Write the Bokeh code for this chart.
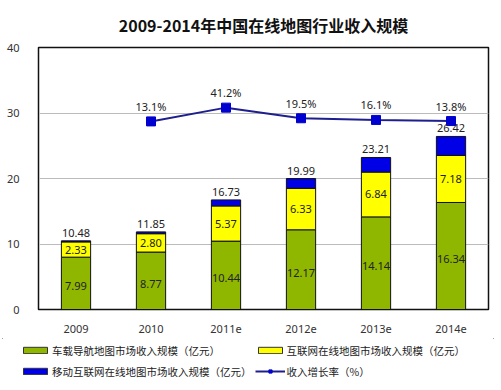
from bokeh.plotting import figure
from bokeh.layouts import column
from bokeh.models import ColumnDataSource, Range1d, Legend, LegendItem, FixedTicker, LabelSet
from bokeh.embed import file_html
from bokeh.resources import INLINE
from bokeh.core.properties import value

years = ["2009", "2010", "2011e", "2012e", "2013e", "2014e"]
car_nav = [7.99, 8.77, 10.44, 12.17, 14.14, 16.34]
internet = [2.33, 2.80, 5.37, 6.33, 6.84, 7.18]
totals = [10.48, 11.85, 16.73, 19.99, 23.21, 26.42]
growth_years = ["2010", "2011e", "2012e", "2013e", "2014e"]
growth = [13.1, 41.2, 19.5, 16.1, 13.8]

mobile = [round(t - a - b, 2) for t, a, b in zip(totals, car_nav, internet)]

FONT = "Noto Sans CJK SC"
NUMFONT = "Noto Sans"
colors = ["#8fb700", "#ffff00", "#0000e6"]
LINE_C = "#1e1e8e"
MARK_C = "#0000d0"

src = ColumnDataSource(dict(
    x=years, car=car_nav, net=internet, mob=mobile, tot=totals,
    car_lbl=["%.2f" % v for v in car_nav],
    net_lbl=["%.2f" % v for v in internet],
    tot_lbl=["%.2f" % v for v in totals],
    car_mid=[a / 2 for a in car_nav],
    net_mid=[a + b / 2 for a, b in zip(car_nav, internet)],
))
gsrc = ColumnDataSource(dict(x=growth_years, g=growth, lbl=["%.1f%%" % v for v in growth]))

p = figure(x_range=years, y_range=Range1d(0, 40), width=496, height=338,
           output_backend="svg", toolbar_location=None, frame_align=False,
           min_border_left=38, min_border_right=8, min_border_top=46, min_border_bottom=29)
p.extra_y_ranges = {"g": Range1d(-371, 164)}

rs = p.vbar_stack(["car", "net", "mob"], x="x", width=0.39, source=src, color=colors,
                  line_color="#111111", line_width=1)

p.line(x="x", y="g", source=gsrc, y_range_name="g", line_color=LINE_C, line_width=2)
p.scatter(x="x", y="g", source=gsrc, y_range_name="g", marker="square", size=9,
          fill_color=MARK_C, line_color=MARK_C)

lbl_kw = dict(text_font=value(NUMFONT), text_font_size="11px", text_color="#222222", text_align="center")
p.add_layout(LabelSet(x="x", y="car_mid", text="car_lbl", source=src, text_baseline="middle", y_offset=-3, **lbl_kw))
p.add_layout(LabelSet(x="x", y="net_mid", text="net_lbl", source=src, text_baseline="middle", **lbl_kw))
p.add_layout(LabelSet(x="x", y="tot", text="tot_lbl", source=src, text_baseline="middle", y_offset=8, **lbl_kw))
p.add_layout(LabelSet(x="x", y="g", text="lbl", source=gsrc, y_range_name="g", text_baseline="middle", y_offset=15, **lbl_kw))

p.title.text = "2009-2014年中国在线地图行业收入规模"
p.title.text_font = FONT
p.title.text_font_size = "16px"
p.title.text_font_style = "bold"
p.title.align = "center"
p.title.text_color = "#111111"
p.title.standoff = 21

p.outline_line_color = "#111111"
p.outline_line_width = 1.5
p.background_fill_color = "white"
p.border_fill_color = "white"

p.xgrid.grid_line_color = None
p.ygrid.grid_line_color = "#bbbbbb"
p.ygrid.ticker = FixedTicker(ticks=[10, 20, 30])

p.yaxis.ticker = FixedTicker(ticks=[0, 10, 20, 30, 40])
p.yaxis.axis_line_color = "#111111"
p.yaxis.major_tick_line_color = None
p.yaxis.minor_tick_line_color = None
p.yaxis.major_label_standoff = 13
p.yaxis.major_label_text_font = NUMFONT
p.yaxis.major_label_text_font_size = "11px"
p.yaxis.major_label_text_color = "#333333"

p.xaxis.axis_line_color = "#111111"
p.xaxis.major_tick_line_color = None
p.xaxis.minor_tick_line_color = None
p.xaxis.major_label_standoff = 9
p.xaxis.major_label_text_font = NUMFONT
p.xaxis.major_label_text_font_size = "11px"
p.xaxis.major_label_text_color = "#333333"

# legend strip below the chart (proxy glyphs lie outside its visible range, below it)
lf = figure(width=496, height=51, x_range=years, y_range=Range1d(1000, 1001),
            output_backend="svg", toolbar_location=None, frame_align=False,
            x_axis_type=None, y_axis_type=None,
            min_border_left=0, min_border_right=0, min_border_top=0, min_border_bottom=0)
lf.outline_line_color = None
lf.grid.grid_line_color = None
lf.background_fill_color = "white"
lf.border_fill_color = "white"
lrs = lf.vbar_stack(["car", "net", "mob"], x="x", width=0.39, source=src, color=colors,
                    line_color="#333333", line_width=1)
l_ln = lf.line(x="x", y="g", source=gsrc, line_color=LINE_C, line_width=2)
l_mk = lf.scatter(x="x", y="g", source=gsrc, marker="square", size=7, fill_color=MARK_C, line_color=MARK_C)

legend = Legend(items=[
    LegendItem(label="车载导航地图市场收入规模（亿元）", renderers=[lrs[0]]),
    LegendItem(label="互联网在线地图市场收入规模（亿元）", renderers=[lrs[1]]),
    LegendItem(label="移动互联网在线地图市场收入规模（亿元）", renderers=[lrs[2]]),
    LegendItem(label="收入增长率（%）", renderers=[l_ln, l_mk]),
], location=(20, 9), orientation="horizontal", ncols=2,
    glyph_width=30, glyph_height=8, label_standoff=2, label_height=18, spacing=3,
    padding=0, margin=0, border_line_color=None, background_fill_alpha=0,
    label_text_font=FONT, label_text_font_size="10.5px", label_text_color="#222222")
lf.add_layout(legend, "center")

layout = column(p, lf, spacing=0, width=496, height=389, sizing_mode="fixed",
                styles={"outline": "1px solid #444", "outline-offset": "-3px"})

open("out.html", "w").write(file_html(layout, INLINE))
